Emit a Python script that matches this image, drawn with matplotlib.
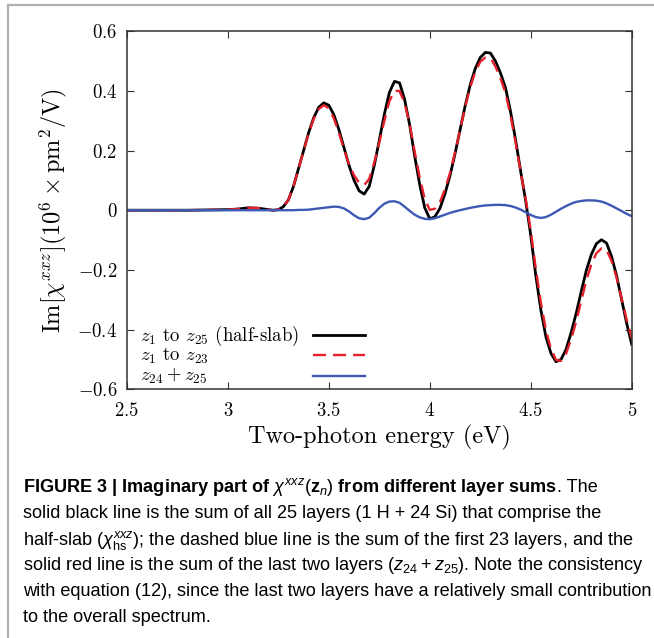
import numpy as np
import matplotlib
matplotlib.use('Agg')
import matplotlib.pyplot as plt
from matplotlib.lines import Line2D
from matplotlib.ticker import FuncFormatter

plt.rcParams['font.family'] = 'serif'
plt.rcParams['font.serif'] = ['cmr10']
plt.rcParams['mathtext.fontset'] = 'cm'
plt.rcParams['axes.formatter.use_mathtext'] = True
plt.rcParams['mathtext.rm'] = 'Liberation Sans'
plt.rcParams['mathtext.it'] = 'Liberation Sans:italic'
plt.rcParams['mathtext.bf'] = 'Liberation Sans:bold'

# two-photon energy (eV)
energy = [2.5, 2.6, 2.7, 2.8, 2.9, 3.0, 3.05, 3.1, 3.15, 3.2, 3.225, 3.25,
          3.275, 3.3, 3.325, 3.35, 3.375, 3.4, 3.425, 3.45, 3.475, 3.5,
          3.525, 3.55, 3.575, 3.6, 3.625, 3.65, 3.675, 3.7, 3.725, 3.75,
          3.775, 3.8, 3.825, 3.85, 3.875, 3.9, 3.925, 3.95, 3.975, 4.0,
          4.025, 4.05, 4.075, 4.1, 4.125, 4.15, 4.175, 4.2, 4.225, 4.25,
          4.275, 4.3, 4.325, 4.35, 4.375, 4.4, 4.425, 4.45, 4.475, 4.5,
          4.525, 4.55, 4.575, 4.6, 4.625, 4.65, 4.675, 4.7, 4.725, 4.75,
          4.775, 4.8, 4.825, 4.85, 4.875, 4.9, 4.925, 4.95, 4.975, 5.0]

# z1 to z25 (half-slab)
half_slab = [0, 0, 0, 0, 0.001, 0.002, 0.004, 0.008, 0.007, 0.002, 0.0, 0.002,
             0.012, 0.035, 0.08, 0.14, 0.2, 0.26, 0.31, 0.345, 0.36, 0.352,
             0.32, 0.27, 0.21, 0.15, 0.1, 0.065, 0.054, 0.08, 0.15, 0.235,
             0.322, 0.395, 0.432, 0.427, 0.372, 0.287, 0.182, 0.086, 0.008, -0.029,
             -0.022, 0.006, 0.055, 0.116, 0.19, 0.27, 0.35, 0.42, 0.475, 0.512,
             0.529, 0.527, 0.5, 0.46, 0.41, 0.33, 0.235, 0.13, 0.03, -0.085,
             -0.22, -0.335, -0.425, -0.48, -0.508, -0.5, -0.466, -0.41, -0.345, -0.272,
             -0.202, -0.148, -0.112, -0.099, -0.11, -0.155, -0.22, -0.3, -0.38, -0.45]

# z1 to z23
first_23 = [0, 0, 0, 0, 0.001, 0.002, 0.004, 0.008, 0.007, 0.002, 0.0, 0.002,
            0.012, 0.035, 0.08, 0.139, 0.199, 0.258, 0.306, 0.339, 0.352, 0.342,
            0.308, 0.259, 0.204, 0.154, 0.117, 0.092, 0.084, 0.105, 0.16, 0.227,
            0.3, 0.366, 0.4, 0.4, 0.36, 0.289, 0.197, 0.11, 0.037, 0.001,
            0.005, 0.027, 0.07, 0.125, 0.194, 0.27, 0.346, 0.412, 0.464, 0.498,
            0.512, 0.51, 0.482, 0.442, 0.393, 0.316, 0.226, 0.128, 0.037, -0.069,
            -0.197, -0.309, -0.402, -0.465, -0.502, -0.505, -0.48, -0.432, -0.373, -0.303,
            -0.235, -0.181, -0.144, -0.128, -0.133, -0.17, -0.226, -0.297, -0.368, -0.43]

# z24 + z25
last_two = [0, 0, 0, 0, 0, 0, 0, 0, 0, 0, 0, 0,
            0, 0, 0, 0.001, 0.001, 0.002, 0.004, 0.006, 0.008, 0.01,
            0.012, 0.011, 0.006, -0.004, -0.017, -0.027, -0.03, -0.025, -0.01, 0.008,
            0.022, 0.029, 0.03, 0.025, 0.012, -0.002, -0.015, -0.024, -0.029, -0.03,
            -0.027, -0.021, -0.015, -0.009, -0.004, 0.0, 0.004, 0.008, 0.011, 0.014,
            0.016, 0.017, 0.018, 0.018, 0.017, 0.014, 0.009, 0.002, -0.007, -0.016,
            -0.023, -0.026, -0.023, -0.015, -0.005, 0.005, 0.014, 0.022, 0.028, 0.031,
            0.033, 0.033, 0.032, 0.029, 0.023, 0.015, 0.006, -0.003, -0.012, -0.02]

labels = [r'$z_1$ to $z_{25}$ (half-slab)', r'$z_1$ to $z_{23}$', r'$z_{24}+z_{25}$']

dash = (5.5, 3)

fig = plt.figure(figsize=(6.54, 6.38), dpi=100)
ax = fig.add_axes([0.194, 0.390, 0.772, 0.561])

l1, = ax.plot(energy, half_slab, color='black', lw=2.0)
l2, = ax.plot(energy, first_23, color='#e5202a', lw=1.7, dashes=dash)
l3, = ax.plot(energy, last_two, color='#3d59b3', lw=1.7)

ax.set_xlim(2.5, 5)
ax.set_ylim(-0.6, 0.6)
ax.set_xticks([2.5, 3, 3.5, 4, 4.5, 5])
ax.set_yticks([-0.6, -0.4, -0.2, 0, 0.2, 0.4, 0.6])
fmt = FuncFormatter(lambda v, p: '$%g$' % round(v, 2))
ax.xaxis.set_major_formatter(fmt)
ax.yaxis.set_major_formatter(fmt)
ax.tick_params(direction='in', top=True, right=True, length=5, width=0.8,
               labelsize=13.5, colors='#333333', labelcolor='black')
ax.tick_params(axis='x', pad=9)
ax.tick_params(axis='y', pad=7)
for s in ax.spines.values():
    s.set_linewidth(1.1)
    s.set_color('#333333')

ax.set_xlabel('Two-photon energy (eV)', fontsize=17.5, labelpad=4)
ax.set_ylabel(r'$\mathrm{Im}[\chi^{xxz}](10^6\times\mathrm{pm}^2/\mathrm{V})$',
              fontsize=17.5, labelpad=6)

# legend: text left-aligned, handles in a column on the right
rows_y = [0.150, 0.093, 0.036]
for line, lab, yy in zip([l1, l2, l3], labels, rows_y):
    ax.text(0.026, yy, lab, transform=ax.transAxes, fontsize=13.5,
            va='center', ha='left')
    ax.add_line(Line2D([0.368, 0.471], [yy + 0.002, yy + 0.002],
                       transform=ax.transAxes, color=line.get_color(),
                       lw=line.get_linewidth(), linestyle=line.get_linestyle(),
                       dashes=dash if line is l2 else (None, None)))

# gray frame around the figure panel
fig.add_artist(Line2D([8 / 654, 1], [1 - 5 / 638, 1 - 5 / 638], color='#b0b0b0', lw=1.6))
fig.add_artist(Line2D([8 / 654, 8 / 654], [0, 1 - 5 / 638], color='#b0b0b0', lw=1.6))

# caption
cap_family = ['Liberation Sans Narrow', 'Liberation Sans']
x0 = 23 / 654
line_y = [487, 513, 540, 566, 592, 618]
caption_lines = [
    'solid black line is the sum of all 25 layers (1 H + 24 Si) that comprise the',
    r'half-slab ($\chi^{xxz}_{\mathrm{hs}}$); the dashed blue line is the sum of the first 23 layers, and the',
    r'solid red line is the sum of the last two layers ($z_{24}+z_{25}$). Note the consistency',
    'with equation (12), since the last two layers have a relatively small contribution',
    'to the overall spectrum.',
]
renderer = fig.canvas.get_renderer()

# pick a caption size so that the widest line spans like the reference
probe = fig.text(x0, 0.5, caption_lines[2], fontsize=13, family=cap_family,
                 math_fontfamily='custom')
w = probe.get_window_extent(renderer).width
probe.remove()
cap_size = min(13 * 620 / w, 13.5)

cap_kw = dict(fontsize=cap_size, family=cap_family, math_fontfamily='custom',
              va='center', ha='left')
t_bold = fig.text(x0, 1 - line_y[0] / 638,
                  r'FIGURE 3 | Imaginary part of $\chi^{xxz}(\mathbf{z}_n)$ from different layer sums',
                  fontweight='bold', **cap_kw)
bb = t_bold.get_window_extent(renderer)
fig.text(bb.x1 / fig.bbox.width, 1 - line_y[0] / 638, '. The', **cap_kw)
for yy, txt in zip(line_y[1:], caption_lines):
    fig.text(x0, 1 - yy / 638, txt, **cap_kw)

fig.savefig('out.png', dpi=100)
